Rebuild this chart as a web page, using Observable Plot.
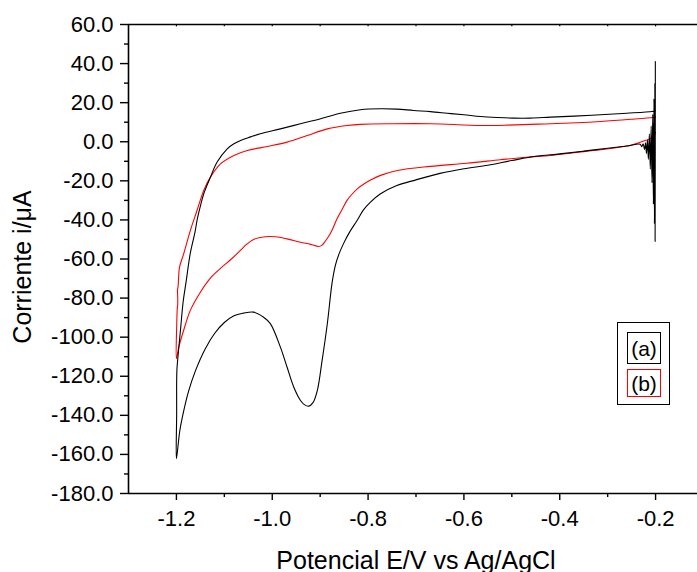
<!DOCTYPE html>
<html><head><meta charset="utf-8">
<script src="https://cdn.jsdelivr.net/npm/d3@7"></script>
<script src="https://cdn.jsdelivr.net/npm/@observablehq/plot@0.6"></script>
<style>
body{margin:0;background:#fff;}
#wrap{position:relative;width:697px;height:572px;overflow:hidden;background:#fff;}
.lg{position:absolute;box-sizing:border-box;font-family:'Liberation Sans',Arial,sans-serif;}
.lgOuter{left:617px;top:322px;width:53px;height:83px;border:1.5px solid #000;}
.lgItem{left:627px;width:34px;font-size:21px;line-height:1;display:flex;align-items:center;justify-content:center;color:#000;}
</style></head><body><div id="wrap"></div>
<script>
// Curve (a), black: cathodic scan from -0.2 V (with ringing) to -1.2 V, then back
const aE=[-0.2005,-0.2010,-0.2016,-0.2024,-0.2034,-0.2046,-0.2060,-0.2075,-0.2092,-0.2110,-0.2130,-0.2150,-0.2170,-0.2190,-0.2210,-0.2230,-0.2260,-0.2290,-0.2320,
-0.260,-0.300,-0.350,-0.400,-0.450,-0.500,-0.550,-0.600,-0.650,-0.700,-0.740,-0.774,-0.795,-0.810,-0.823,-0.838,-0.851,-0.860,-0.868,-0.875,-0.885,-0.896,-0.906,-0.915,-0.924,-0.933,-0.941,-0.955,-0.969,-0.983,-1.004,-1.018,-1.039,-1.060,-1.080,-1.100,-1.120,-1.140,-1.160,-1.175,-1.185,-1.193,-1.200,
-1.1995,-1.199,-1.196,-1.191,-1.186,-1.180,-1.171,-1.161,-1.157,-1.150,-1.143,-1.129,-1.115,-1.094,-1.080,-1.066,-1.045,-1.025,-0.983,-0.941,-0.899,-0.858,-0.816,-0.774,-0.740,-0.705,-0.670,-0.635,-0.600,-0.565,-0.530,-0.496,-0.461,-0.419,-0.370,-0.315,-0.260,-0.207,-0.200];
const aI=[41,-51,30,-42,22,-32,14,-21,8,-14,4,-9,1,-6,-0.5,-4,-1,-2.5,-1.3,
-2.2,-3.3,-4.8,-6.2,-7.4,-9.6,-12.0,-13.8,-16.2,-19.5,-22.4,-26.6,-30.9,-35,-40.3,-46,-52,-57,-63,-72,-93,-112,-127.3,-133.5,-135.3,-134.5,-132.4,-125.6,-115.4,-105.1,-93.1,-89.8,-87.2,-87.7,-89,-92.5,-98,-106,-117,-128,-138,-148,-162.2,
-140,-117,-108,-95,-82,-72,-57,-46,-40.3,-33,-26.6,-18.1,-10.4,-3.6,-1,0.7,2.5,4.1,6.6,9.2,11.8,14.6,16.4,16.9,16.7,16.0,15.4,14.6,13.8,12.9,12.4,12.1,12.1,12.6,13.1,13.8,14.6,15.5,15.8];
// Curve (b), red
const bE=[-0.200,-0.203,-0.210,-0.226,-0.254,-0.315,-0.370,-0.419,-0.470,-0.524,-0.594,-0.670,-0.739,-0.774,-0.794,-0.808,-0.822,-0.836,-0.844,-0.854,-0.865,-0.872,-0.880,-0.889,-0.896,-0.903,-0.920,-0.941,-0.969,-0.993,-1.015,-1.039,-1.055,-1.066,-1.087,-1.108,-1.129,-1.150,-1.171,-1.185,-1.195,-1.200,
-1.1995,-1.198,-1.1975,-1.1972,-1.1978,-1.1965,-1.1935,-1.185,-1.171,-1.157,-1.143,-1.129,-1.108,-1.080,-1.052,-1.010,-0.969,-0.927,-0.885,-0.844,-0.816,-0.747,-0.670,-0.600,-0.565,-0.510,-0.461,-0.419,-0.315,-0.250,-0.205,-0.200];
const bI=[5,3,1.6,0.3,-1.9,-4.1,-5.6,-7.0,-7.9,-9.2,-11.0,-12.6,-14.7,-17.2,-19.5,-21.5,-24,-27.5,-30,-34.5,-39.5,-43.5,-47.5,-50.8,-52.9,-53.6,-52.5,-51.4,-49.7,-48.6,-48.6,-50,-52.8,-55.5,-60.4,-64.8,-69.8,-77,-86.3,-96.6,-105,-111,
-95,-84.6,-84,-80,-76,-74,-64.2,-57.5,-45.5,-35.2,-24.9,-18.1,-11.3,-7.0,-4.5,-2.4,-0.2,3.2,6.6,8.3,8.9,9.2,9.2,8.6,8.3,8.5,8.9,9.2,10.4,11.5,12.4,12.6];

const xDomain=[-1.3,-0.1];
const yDomain=[-180,60];
const xMajor=[-1.2,-1.0,-0.8,-0.6,-0.4,-0.2];
const xMinor=[-1.1,-0.9,-0.7,-0.5,-0.3];
const xTop=[-1.2,-1.1,-1.0,-0.9,-0.8,-0.7,-0.6,-0.5,-0.4,-0.3,-0.2];
const yMajor=[-180,-160,-140,-120,-100,-80,-60,-40,-20,0,20,40,60];
const yMinor=[-170,-150,-130,-110,-90,-70,-50,-30,-10,10,30,50];
const legendLabels=["(a)","(b)"];
const colors=["#000000","#ff0000"];
const xTitle="Potencial E/V vs Ag/AgCl";
const yTitle="Corriente i/\u03BCA";

const rows=(E,I)=>E.map((e,i)=>({E:e,I:I[i]}));
const fmt=d=>d.toFixed(1);

const chart=Plot.plot({
  width:697,height:572,
  marginLeft:128,marginTop:24,marginBottom:79,marginRight:0,
  style:{fontFamily:"'Liberation Sans', Arial, sans-serif",background:"#fff",color:"#000",overflow:"hidden"},
  x:{domain:xDomain,range:[128,703]},
  y:{domain:yDomain},
  marks:[
    Plot.line(rows(bE,bI),{x:"E",y:"I",stroke:colors[1],strokeWidth:1.1,curve:"catmull-rom"}),
    Plot.line(rows(aE,aI),{x:"E",y:"I",stroke:colors[0],strokeWidth:1.1,curve:"catmull-rom"}),
    Plot.ruleY([yDomain[0],yDomain[1]],{stroke:"#000",strokeWidth:1.6}),
    Plot.ruleX([xDomain[0]],{stroke:"#000",strokeWidth:1.6}),
    Plot.ruleX(xTop,{y1:yDomain[1],y2:yDomain[1]-1.2,stroke:"#000",strokeWidth:1.2}),
    Plot.axisX(xMajor,{tickSize:7,tickPadding:10,tickFormat:fmt,fontSize:22,label:null,strokeWidth:1.4}),
    Plot.axisX(xMinor,{tickSize:4,tickFormat:()=>"",label:null,strokeWidth:1.4}),
    Plot.axisY(yMajor,{tickSize:8,tickPadding:7,tickFormat:fmt,fontSize:22,label:null,strokeWidth:1.4}),
    Plot.axisY(yMinor,{tickSize:4,tickFormat:()=>"",label:null,strokeWidth:1.4}),
    Plot.text([xTitle],{frameAnchor:"bottom",dy:67,dx:3,fontSize:25,lineAnchor:"middle",textAnchor:"middle",fill:"#000"}),
    Plot.text([yTitle],{frameAnchor:"left",rotate:-90,dx:-106,dy:8,fontSize:25,lineAnchor:"middle",textAnchor:"middle",fill:"#000"})
  ]
});
const wrap=document.getElementById("wrap");
wrap.appendChild(chart);
// legend
const outer=document.createElement("div");
outer.className="lg lgOuter";
wrap.appendChild(outer);
const tops=[332,369], hs=[32,28], bw=["1.5px","1px"];
legendLabels.forEach((t,i)=>{
  const d=document.createElement("div");
  d.className="lg lgItem";
  d.style.top=tops[i]+"px";
  d.style.height=hs[i]+"px";
  d.style.border=bw[i]+" solid "+colors[i];
  d.textContent=t;
  wrap.appendChild(d);
});
</script></body></html>
